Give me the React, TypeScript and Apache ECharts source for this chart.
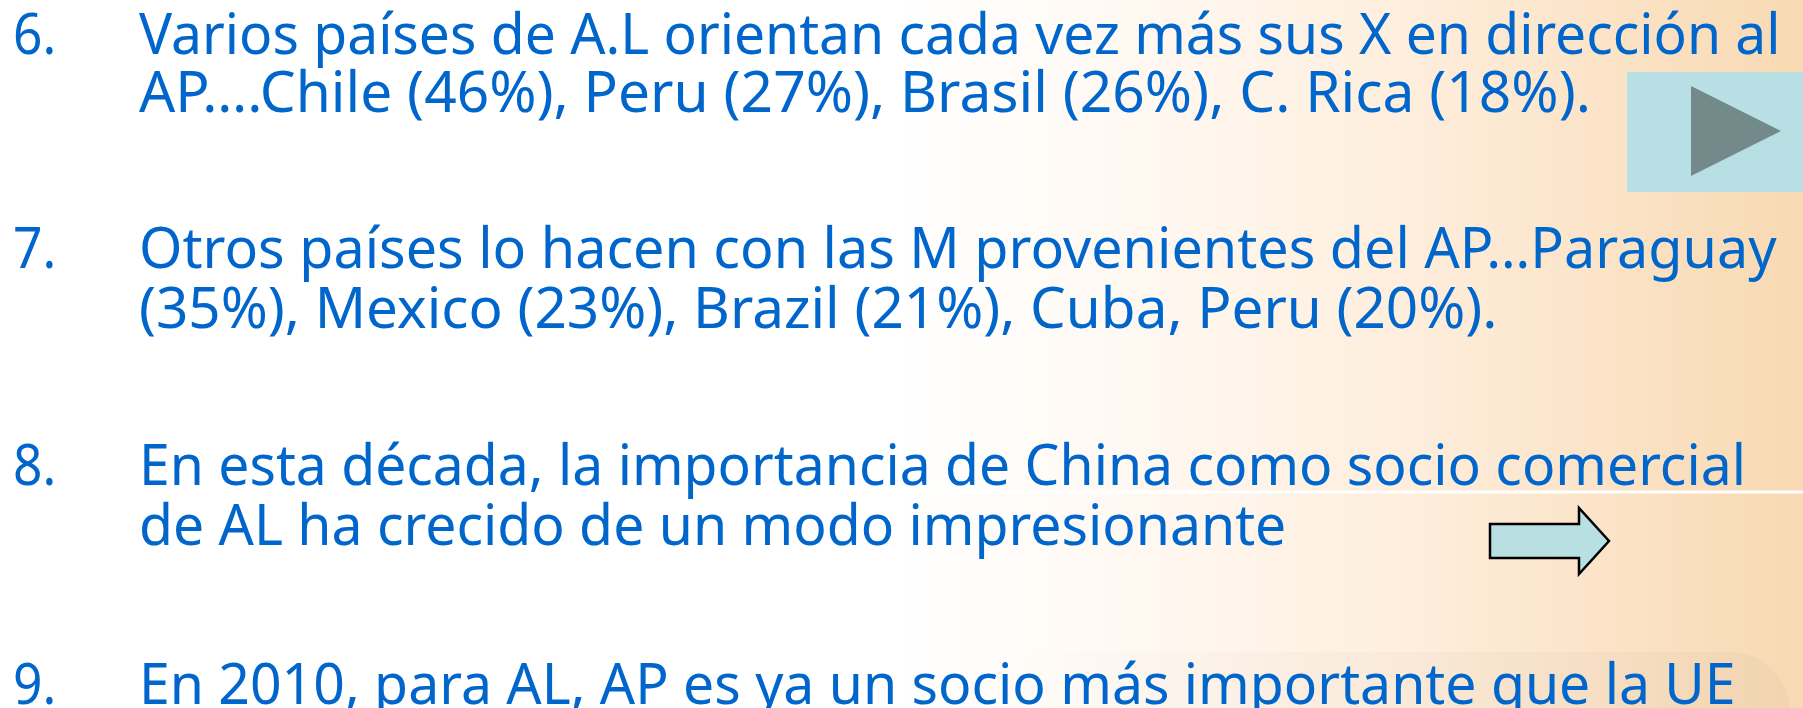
import React, { useEffect, useRef } from "react";
import * as echarts from "echarts";

// ---- content ----
const numerals = ["6.", "7.", "8.", "9."];
const item6 = [
  "Varios países de A.L orientan cada vez más sus X en dirección al",
  "AP….Chile (46%), Peru (27%), Brasil (26%), C. Rica (18%).",
];
const item7 = [
  "Otros países lo hacen con las M provenientes del AP…Paraguay",
  "(35%), Mexico (23%), Brazil (21%), Cuba, Peru (20%).",
];
const item8 = [
  "En esta década, la importancia de China como socio comercial",
  "de AL ha crecido de un modo impresionante",
];
const item9 = ["En 2010, para AL, AP es ya un socio más importante que la UE"];

// ---- layout (pixels) ----
const W = 1803;
const H = 708;
const FS = 56;
const FONT = '"Noto Sans", "Open Sans", sans-serif';
const TEXT_X = 139;
const NUM_X = 13;
const itemBaselines = [[54, 112], [268, 328], [485, 545], [704]];
const itemEnds = [[1781, 1591], [1777, 1498], [1747, 1286], [1736]];
const TEXT_COLOR = "#0066CC";

export default function App() {
  const ref = useRef<HTMLDivElement>(null);
  useEffect(() => {
    if (!ref.current) return;
    const chart = echarts.init(ref.current, null, { renderer: "svg" });
    const ctx = document.createElement("canvas").getContext("2d")!;
    ctx.font = `${FS}px ${FONT}`;
    const items = [item6, item7, item8, item9];
    const centralOffset = 0.388 * FS;
    const elements: any[] = [];

    // background
    elements.push({
      type: "rect",
      shape: { x: 0, y: 0, width: W, height: H },
      style: {
        fill: new echarts.graphic.LinearGradient(0, 0, 1, 0, [
          { offset: 0, color: "#FFFFFF" },
          { offset: 0.5, color: "#FFFFFF" },
          { offset: 0.62, color: "#FFF9F3" },
          { offset: 0.78, color: "#FEEEDD" },
          { offset: 1, color: "#F8D9B2" },
        ]),
      },
      silent: true,
    });
    // faint bowl shape bottom right
    elements.push({
      type: "rect",
      shape: { x: 990, y: 652, width: 800, height: 140, r: 60 },
      style: {
        fill: new echarts.graphic.LinearGradient(0, 0, 1, 0, [
          { offset: 0, color: "rgba(150,135,120,0.0)" },
          { offset: 0.3, color: "rgba(150,135,120,0.035)" },
          { offset: 1, color: "rgba(140,120,100,0.06)" },
        ]),
      },
      silent: true,
    });
    // white separator line
    elements.push({
      type: "line",
      shape: { x1: 900, y1: 492, x2: W, y2: 492 },
      style: { stroke: "#FFFFFF", lineWidth: 3 },
      silent: true,
    });

    items.forEach((lines, i) => {
      const nb = itemBaselines[i][0];
      elements.push({
        type: "text",
        x: NUM_X,
        y: nb - centralOffset,
        scaleX: 0.92,
        style: {
          text: numerals[i],
          fontSize: FS,
          fontFamily: FONT,
          fill: TEXT_COLOR,
          align: "left",
          verticalAlign: "middle",
        },
      });
      lines.forEach((t, j) => {
        const w = ctx.measureText(t).width;
        const sx = (itemEnds[i][j] - TEXT_X) / w;
        elements.push({
          type: "text",
          x: TEXT_X,
          y: itemBaselines[i][j] - centralOffset,
          scaleX: sx,
          style: {
            text: t,
            fontSize: FS,
            fontFamily: FONT,
            fill: TEXT_COLOR,
            align: "left",
            verticalAlign: "middle",
          },
        });
      });
    });

    // play button
    elements.push({
      type: "rect",
      shape: { x: 1627, y: 72, width: W - 1627, height: 120 },
      style: { fill: "#B8DFE3" },
    });
    elements.push({
      type: "polygon",
      shape: { points: [[1691, 86], [1691, 176], [1781, 131]] },
      style: { fill: "#728A8A" },
    });
    // block arrow
    elements.push({
      type: "polygon",
      shape: {
        points: [
          [1490, 524],
          [1579, 524],
          [1579, 508],
          [1609, 541],
          [1579, 574],
          [1579, 558],
          [1490, 558],
        ],
      },
      style: { fill: "#B8E0E3", stroke: "#000000", lineWidth: 2.5, lineJoin: "miter" },
    });

    chart.setOption({ animation: false, graphic: { elements } });
    return () => chart.dispose();
  }, []);
  return (
    <div
      ref={ref}
      style={{ position: "fixed", left: 0, top: 0, width: W, height: H }}
    />
  );
}
